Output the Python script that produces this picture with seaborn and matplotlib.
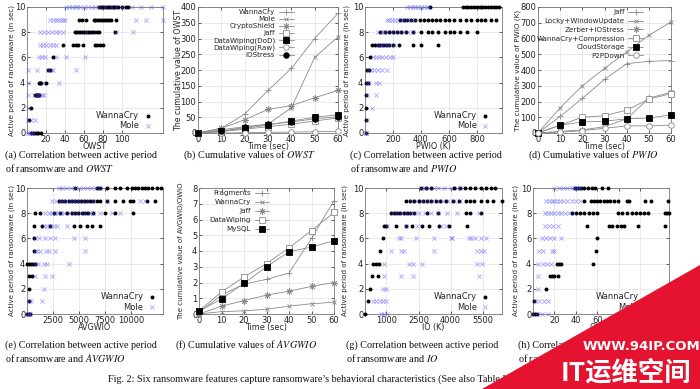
import numpy as np
import pandas as pd
import matplotlib
matplotlib.use('Agg')
import matplotlib.pyplot as plt
import seaborn as sns
from matplotlib.patches import Polygon

# ---------------- data ----------------
# scatter panels: active period (sec) -> list of feature values
owst_wannacry = {
    10: [76, 78, 80, 82, 84, 86, 88, 90, 92, 94, 96, 100, 104, 106],
    9: [55, 58, 62, 70, 72, 74, 76, 78, 80, 82, 84, 86, 88, 94],
    8: [50, 52, 54, 56, 58, 60, 62, 64, 66, 68, 70, 74, 76, 93],
    7: [38, 48, 52, 54, 59, 71, 74, 77, 80],
    6: [27], 5: [22, 24], 4: [13, 14, 15, 20],
    3: [8, 9, 10, 11, 12, 13], 2: [4], 1: [2], 0: [4, 6, 8, 10, 12, 15],
}
owst_mole = {
    10: [41, 44, 47, 50, 53, 56, 60, 64, 68, 72, 76, 82, 88, 94, 100, 110, 120, 130, 143],
    9: [24, 27, 30, 33, 36, 38, 40, 115, 125, 143],
    8: [14, 18, 22, 26, 30, 34, 38, 62, 94, 111],
    7: [14, 17, 20, 24, 27, 31],
    6: [13, 16, 19, 31, 41, 61],
    5: [1, 10, 22, 25, 27, 51],
    4: [1, 17, 34],
    3: [1, 7, 10, 13, 16, 18],
    2: [1], 1: [1, 4, 8], 0: [0, 2, 4, 6],
}

pwio_wannacry = {
    10: [465, 700, 720, 740, 760, 780, 800, 820, 840, 860, 880, 900, 920, 940, 960],
    9: [250, 280, 300, 330, 360, 390, 420, 450, 480, 510, 540, 570, 600, 640, 680,
        720, 760, 800, 830, 860, 900, 935],
    8: [110, 140, 170, 200, 230, 260, 290, 340, 400, 450, 480, 520, 570, 610, 640, 680, 730, 800],
    7: [50, 70, 90, 110, 130, 150, 170, 200, 240, 340, 400, 525],
    6: [36], 5: [12, 30], 4: [8, 20], 3: [8], 2: [5], 1: [4], 0: [4],
}
pwio_mole = {
    10: [300, 320, 340, 360, 380, 400, 420, 440, 460],
    9: [155, 175, 195, 215, 235, 255, 275, 300, 330, 360],
    8: [95, 115, 135, 160, 190, 220, 250, 280, 310, 340],
    7: [85, 105, 125, 150, 175, 210],
    6: [60, 80, 100, 120, 150, 180, 200],
    5: [25, 45, 65, 90, 120, 155],
    4: [12, 30, 80, 100], 3: [12, 80], 2: [50], 1: [12], 0: [5, 10],
}

avgwio_wannacry = {
    10: [4640, 6720, 7040, 7680, 8480, 8960, 9600, 10080, 10400, 10720, 11040, 11360,
         11680, 12000, 12480, 12900],
    9: [3040, 3400, 3700, 4000, 4300, 4600, 4900, 5200, 5500, 5800, 6100, 6400, 6700,
        7000, 7680, 8480, 9280, 9920, 10240, 11520, 12320],
    8: [800, 1280, 2560, 3200, 3840, 4320, 4640, 4960, 5280, 5600, 5920, 6400, 7520, 8480, 10240],
    7: [640, 1440, 2240, 4480, 5120, 5820, 6240, 7040],
    6: [640], 5: [640], 4: [0, 200, 400, 600, 800],
    3: [160, 480], 2: [160], 1: [160], 0: [0, 200, 320],
}
avgwio_mole = {
    10: [3040, 3400, 3800, 4200, 4600, 5000, 5400, 5800, 6200, 6600, 7040],
    9: [2400, 2800, 3200, 3500, 3800, 4100, 4400, 4700, 5000, 5400, 5800, 6400, 7680, 10880, 11360],
    8: [1760, 2100, 2400, 2700, 3000, 3300, 3600, 4000, 4400, 4800, 5200, 5600, 6000,
        6400, 7040, 8160, 8960],
    7: [1600, 1900, 2200, 2600, 2880, 3840],
    6: [800, 1200, 1700, 2200, 2700, 4480, 5600],
    5: [800, 1000, 1300, 1800, 2100, 2700, 5600],
    4: [800, 1100, 1600, 1920, 4000],
    3: [800, 1760, 2400], 2: [1600], 1: [160, 400, 1440], 0: [0, 160, 320],
}

io_wannacry = {
    10: [2600, 2840, 3070, 4150, 4460, 4650, 4900, 5150, 5400, 5650, 5900, 6090],
    9: [1900, 2100, 2300, 2500, 2700, 2900, 3100, 3300, 3500, 3800, 4100, 4400, 4700,
        4900, 5100, 5400, 5700, 6000, 6380],
    8: [1200, 1350, 1500, 1650, 1800, 1950, 2100, 2300, 2900, 3400, 4700, 4900, 5400],
    7: [900, 980, 1440, 1900, 2200, 2680, 3000, 3460, 3920, 4770],
    6: [820], 5: [710], 4: [360, 500, 660], 3: [310, 620], 2: [250], 1: [150], 0: [0],
}
io_mole = {
    10: [2600, 2800, 3000, 3200, 3400, 3700, 4000, 4300, 4460],
    9: [2140, 2400, 2650, 2900, 3150, 3400, 3650, 3900, 4150, 4460],
    8: [1290, 1500, 1700, 1900, 2100, 2300, 2500, 2800, 3100, 3400, 3840, 4300, 5320],
    7: [1050, 1900, 2450, 3530, 3770],
    6: [1600, 1680, 2370, 3220, 4000, 4080, 4850, 4930, 5160, 5400, 5630],
    5: [1210, 1670, 1830, 3220, 5240, 5400, 5550],
    4: [900, 2060, 2220, 2680, 5240, 5470],
    3: [900, 1670, 2220, 5320], 2: [820, 980],
    1: [360, 520, 680, 840, 980], 0: [740, 900, 1050],
}

owio_wannacry = {
    10: [39, 42, 45, 48, 51, 55, 58, 64, 70],
    9: [48, 54, 57, 60, 63, 66, 69, 72, 76, 79, 88, 90, 105, 110, 126],
    8: [36, 40, 44, 48, 52, 56, 60, 79, 83, 88, 92, 96, 100, 104, 107, 123, 125, 127],
    7: [50, 71, 74, 78, 82, 85, 98, 123],
    6: [60], 5: [59], 4: [22, 24, 26, 56], 3: [16, 18, 20, 23], 2: [12], 1: [1], 0: [0, 2, 4],
}
owio_mole = {
    10: [20, 24, 28, 32, 36, 38, 40, 42, 44],
    9: [12, 15, 18, 20, 22, 25, 28, 32, 36, 40, 44],
    8: [11, 14, 17, 20, 23, 26, 30, 34, 38],
    7: [11, 15, 19, 23],
    6: [8, 12, 16, 20, 26],
    5: [6, 9, 18, 20],
    4: [5, 9, 13, 17],
    3: [5], 2: [5], 1: [2, 6, 10, 14], 0: [0, 4, 8, 14],
}

# cumulative panels
time_sec = [0, 10, 20, 30, 40, 50, 60]

owst_names = ['WannaCry', 'Mole', 'CryptoShield', 'Jaff', 'DataWiping(DoD)',
              'DataWiping(Raw)', 'IOStress']
owst_cum = [
    [0, 15, 60, 135, 205, 300, 380],
    [0, 10, 20, 28, 80, 240, 305],
    [0, 15, 42, 75, 87, 112, 135],
    [0, 5, 12, 20, 28, 38, 48],
    [0, 5, 15, 25, 38, 50, 58],
    [0, 0, 1, 2, 3, 4, 5],
    [0, 5, 18, 28, 35, 45, 52],
]

pwio_names = ['Jaff', 'Locky+WindowUpdate', 'Zerber+IOStress', 'WannaCry+Compression',
              'CloudStorage', 'P2PDown']
pwio_cum = [
    [0, 105, 220, 340, 440, 455, 460],
    [0, 160, 300, 410, 515, 620, 705],
    [0, 10, 20, 40, 90, 220, 260],
    [0, 50, 100, 110, 145, 215, 250],
    [0, 50, 70, 75, 90, 95, 115],
    [0, 5, 15, 30, 45, 45, 50],
]

avg_names = ['Fragments', 'WannaCry', 'Jaff', 'DataWiping', 'MySQL']
avg_cum = [
    [0.1, 1.2, 1.9, 2.2, 2.6, 4.8, 7.2],
    [0, 0.15, 0.2, 0.3, 0.5, 0.65, 0.75],
    [0, 0.5, 0.85, 1.2, 1.45, 1.75, 2.0],
    [0.2, 1.4, 2.35, 3.2, 4.2, 5.3, 6.45],
    [0.2, 0.95, 1.95, 3.0, 3.95, 4.25, 4.65],
]

# ---------------- styling ----------------
sns.set_theme(style='white')
plt.rcParams['font.family'] = ['DejaVu Sans']
plt.rcParams['mathtext.fontset'] = 'stix'

GRAY = '#8a8a8a'
marker_styles = {
    'plus': dict(marker='+', markersize=5, markeredgewidth=0.6,
                 markeredgecolor=GRAY, markerfacecolor=GRAY),
    'cross': dict(marker='x', markersize=3.5, markeredgewidth=0.6,
                  markeredgecolor=GRAY, markerfacecolor=GRAY),
    'star': dict(marker=(8, 2, 0), markersize=4.5, markeredgewidth=0.6,
                 markeredgecolor=GRAY, markerfacecolor=GRAY),
    'osq': dict(marker='s', markersize=4, markeredgewidth=0.6,
                markeredgecolor=GRAY, markerfacecolor='white'),
    'fsq': dict(marker='s', markersize=4, markeredgewidth=0.6,
                markeredgecolor='black', markerfacecolor='black'),
    'ocirc': dict(marker='o', markersize=4, markeredgewidth=0.6,
                  markeredgecolor=GRAY, markerfacecolor='white'),
    'fcirc': dict(marker='o', markersize=4, markeredgewidth=0.6,
                  markeredgecolor='black', markerfacecolor='black'),
}
owst_styles = ['plus', 'cross', 'star', 'osq', 'fsq', 'ocirc', 'fcirc']
pwio_styles = ['plus', 'cross', 'star', 'osq', 'fsq', 'ocirc']
avg_styles = ['plus', 'cross', 'star', 'osq', 'fsq']

FS = 6
W, H = 700, 389
fig = plt.figure(figsize=(7, 3.89), dpi=100)


def add_ax(left, top, right, bottom):
    return fig.add_axes([left / W, 1 - bottom / H, (right - left) / W, (bottom - top) / H])


def style_axes(ax, ylabel_x, xlabel, ylabel, ylabel_fs):
    ax.grid(True, color='#e2e2e2', linewidth=0.5)
    ax.set_axisbelow(True)
    for s in ax.spines.values():
        s.set_color('#777777')
        s.set_linewidth(0.6)
    ax.tick_params(axis='both', labelsize=FS, direction='in', length=2.5, width=0.5,
                   pad=1.2, colors='#222222', top=True, right=True, bottom=True, left=True)
    ax.set_xlabel(xlabel, fontsize=5.8, va='center')
    ax.set_ylabel(ylabel, fontsize=ylabel_fs, va='center')
    ax.xaxis.set_label_coords(0.5, -0.107)
    ax.yaxis.set_label_coords(ylabel_x, 0.5)


def to_frame(levels):
    rows = [(x, y) for y, xs in levels.items() for x in xs]
    return pd.DataFrame(rows, columns=['x', 'y'])


def scatter_panel(ax, wanna, mole, xlim, xticks, xlabel, ylabel_x, leg_x):
    sns.scatterplot(data=to_frame(wanna), x='x', y='y', ax=ax, color='black', marker='o',
                    s=8, linewidth=0, label='WannaCry', clip_on=False, zorder=3)
    sns.scatterplot(data=to_frame(mole), x='x', y='y', ax=ax, color='#4a4aff', marker='x',
                    s=9, linewidth=0.6, alpha=0.5, label='Mole', clip_on=False, zorder=4)
    ax.set_xlim(*xlim)
    ax.set_ylim(0, 10)
    ax.set_xticks(xticks)
    ax.set_yticks(range(0, 11, 2))
    style_axes(ax, ylabel_x, xlabel, 'Active period of ransomware (in sec)', 5.1)
    ax.legend(loc='lower right', bbox_to_anchor=(leg_x, 0.0), markerfirst=False,
              frameon=False, fontsize=FS, scatterpoints=1, handlelength=0.8,
              handletextpad=0.6, labelspacing=0.15, borderpad=0.1, borderaxespad=0.2)


def cumulative_panel(ax, names, values, styles, ylim, yticks, ylabel, ylabel_fs, ylabel_x,
                     leg_x, spacing):
    for name, vals, st in zip(names, values, styles):
        sns.lineplot(x=time_sec, y=vals, ax=ax, label=name, color=GRAY, linewidth=0.6,
                     clip_on=False, zorder=3, **marker_styles[st])
    ax.set_xlim(0, 60)
    ax.set_ylim(*ylim)
    ax.set_xticks(time_sec)
    ax.set_yticks(yticks)
    style_axes(ax, ylabel_x, 'Time (sec)', ylabel, ylabel_fs)
    ax.legend(loc='upper right', bbox_to_anchor=(leg_x, 1.0), markerfirst=False,
              frameon=False, fontsize=5.1, handlelength=2.1, handletextpad=0.5,
              labelspacing=spacing, borderpad=0.25, borderaxespad=0.1)


ax_a = add_ax(27, 7, 163, 133)
scatter_panel(ax_a, owst_wannacry, owst_mole, (0, 143), [20, 40, 60, 80, 100],
              'OWST', -0.115, 0.93)

ax_b = add_ax(198, 7, 338, 133)
cumulative_panel(ax_b, owst_names, owst_cum, owst_styles, (0, 400), range(0, 401, 50),
                 'The cumulative value of OWST', 5.7, -0.14, 0.70, 0.14)

ax_c = add_ax(365, 7, 502, 133)
scatter_panel(ax_c, pwio_wannacry, pwio_mole, (0, 980), [200, 400, 600, 800],
              'PWIO (K)', -0.13, 0.92)

ax_d = add_ax(538, 7, 671, 133)
cumulative_panel(ax_d, pwio_names, pwio_cum, pwio_styles, (0, 800), range(0, 801, 100),
                 'The cumulative value of PWIO (K)', 5.2, -0.155, 0.81, 0.38)

ax_e = add_ax(27, 188, 163, 314)
scatter_panel(ax_e, avgwio_wannacry, avgwio_mole, (0, 13100), [2500, 5000, 7500, 10000],
              'AVGWIO', -0.115, 0.96)

ax_f = add_ax(199, 188, 334, 314)
cumulative_panel(ax_f, avg_names, avg_cum, avg_styles, (0, 8), range(0, 9),
                 'The cumulative value of AVGWIO/OWIO', 5.0, -0.13, 0.54, 0.42)

ax_g = add_ax(365, 188, 502, 314)
scatter_panel(ax_g, io_wannacry, io_mole, (0, 6400), [1000, 2500, 4000, 5500],
              'IO (K)', -0.145, 0.92)

ax_h = add_ax(533, 188, 669, 314)
scatter_panel(ax_h, owio_wannacry, owio_mole, (0, 127), [20, 40, 60, 80, 100],
              'OWIO', -0.125, 0.88)

# ---------------- captions ----------------
cap = dict(fontsize=7.3, family='Liberation Serif', va='center', ha='left', color='#111111')
captions = [
    (5, 155, '(a) Correlation between active period'),
    (5, 168, r'of ransomware and $OWST$'),
    (183, 155, r'(b) Cumulative values of $OWST$'),
    (350, 155, '(c) Correlation between active period'),
    (350, 168, r'of ransomware and $PWIO$'),
    (528, 155, r'(d) Cumulative values of $PWIO$'),
    (5, 345, '(e) Correlation between active period'),
    (5, 358, r'of ransomware and $AVGWIO$'),
    (175, 345, r'(f) Cumulative values of $AVGWIO$'),
    (346, 345, '(g) Correlation between active period'),
    (346, 358, r'of ransomware and $IO$'),
    (518, 345, '(h) Correlation between active period'),
    (518, 358, r'of ransomware and $OWIO$'),
    (108, 379, 'Fig. 2: Six ransomware features capture ransomware\u2019s behavioral '
               'characteristics (See also Table II).'),
]
for x, y, t in captions:
    fig.text(x / W, 1 - y / H, t, **cap)

# ---------------- watermark ----------------
wm = Polygon([(482 / W, 0), (700 / W, 1 - 265 / H), (1, 0)], closed=True,
             transform=fig.transFigure, facecolor='#e5132f', edgecolor='none', zorder=20)
fig.patches.append(wm)
fig.text(641 / W, 1 - 347 / H, 'WWW.94IP.COM', fontsize=9.5, fontweight='bold',
         color='white', ha='center', va='center', zorder=21)
fig.text(626 / W, 1 - 373 / H, 'IT运维空间', fontsize=19, fontweight='bold', color='white',
         ha='center', va='center', zorder=21, family=['Noto Sans CJK SC', 'DejaVu Sans'])

fig.savefig('out.png', dpi=100)
plt.close(fig)
